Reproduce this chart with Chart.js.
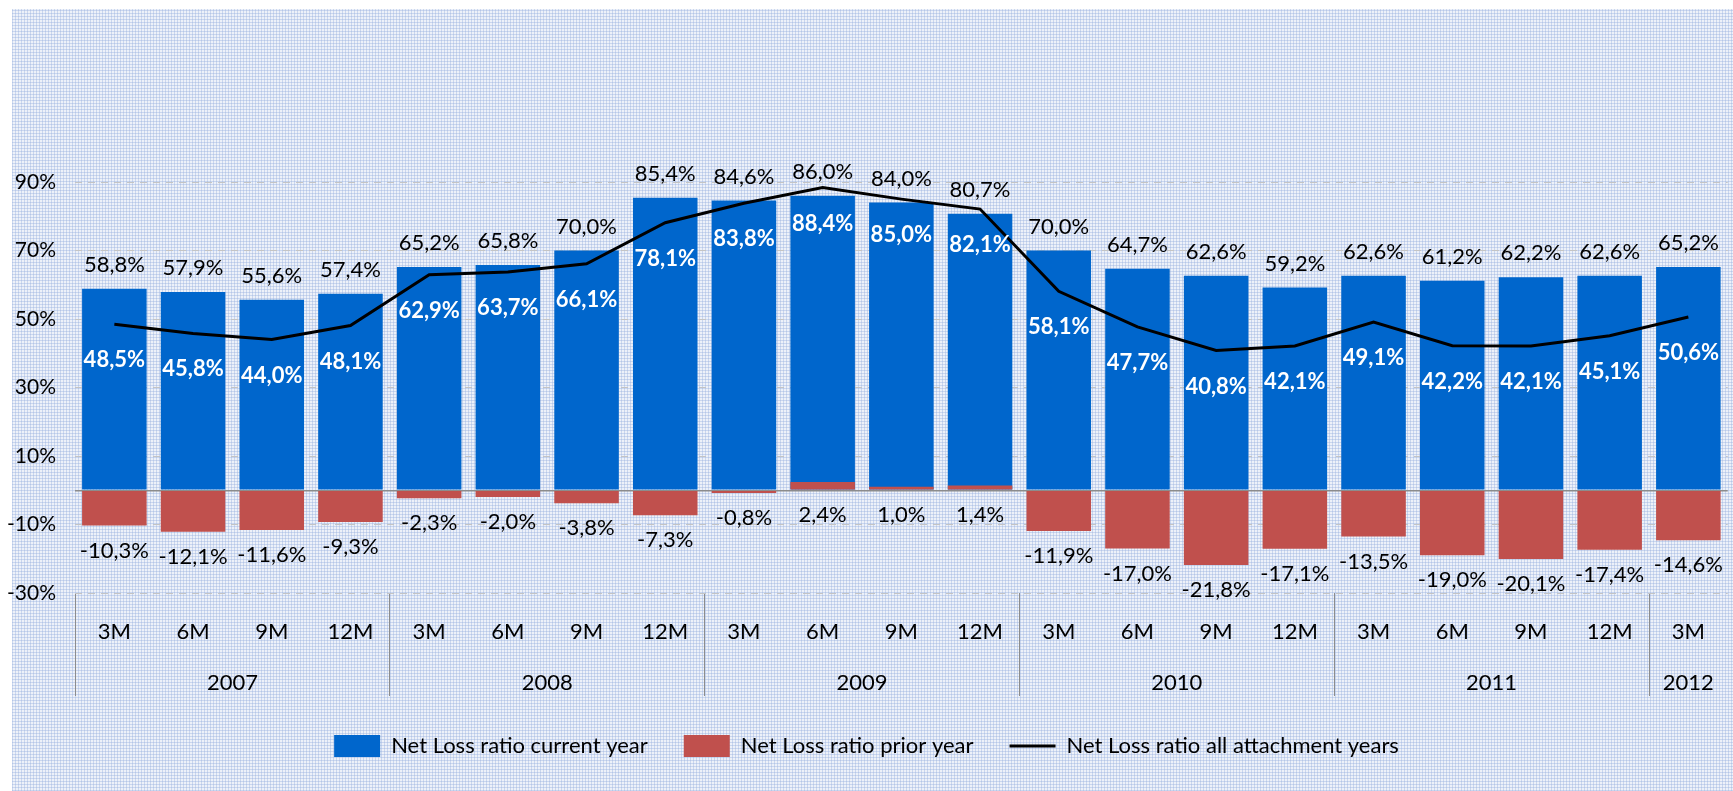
<!DOCTYPE html>
<html><head><meta charset="utf-8">
<script src="https://cdn.jsdelivr.net/npm/chart.js@4.4.0/dist/chart.umd.min.js"></script>
<style>
html,body{margin:0;padding:0;background:#fff;width:1733px;height:791px;overflow:hidden}
#bg{position:absolute;left:12px;top:9px;right:0;bottom:0;background-color:#edf1f9;
background-image:repeating-linear-gradient(90deg, rgba(150,175,222,0.40) 0 1px, transparent 1px 3px),repeating-linear-gradient(0deg, rgba(150,175,222,0.40) 0 1px, transparent 1px 3px);}
#wrap{position:absolute;left:0;top:0;width:1733px;height:791px}
</style></head><body><div id="bg"></div><div id="wrap"><canvas id="c" width="1733" height="791"></canvas></div>
<script>
const periods = ['3M','6M','9M','12M','3M','6M','9M','12M','3M','6M','9M','12M','3M','6M','9M','12M','3M','6M','9M','12M','3M'];
const years = ['2007','2008','2009','2010','2011','2012'];
const periodsPerYear = [4,4,4,4,4,1];
const currentYear = [58.8,57.9,55.6,57.4,65.2,65.8,70.0,85.4,84.6,86.0,84.0,80.7,70.0,64.7,62.6,59.2,62.6,61.2,62.2,62.6,65.2];
const priorYear = [-10.3,-12.1,-11.6,-9.3,-2.3,-2.0,-3.8,-7.3,-0.8,2.4,1.0,1.4,-11.9,-17.0,-21.8,-17.1,-13.5,-19.0,-20.1,-17.4,-14.6];
const allYears = [48.5,45.8,44.0,48.1,62.9,63.7,66.1,78.1,83.8,88.4,85.0,82.1,58.1,47.7,40.8,42.1,49.1,42.2,42.1,45.1,50.6];
const yTicks = [-30,-10,0,10,30,50,70,90];
const seriesNames = ['Net Loss ratio current year','Net Loss ratio prior year','Net Loss ratio all attachment years'];

// group boundaries and centers derived from periodsPerYear
const boundaries = new Set();
const yearCenters = [];
let acc = 0;
periodsPerYear.forEach(n => { boundaries.add(acc); yearCenters.push(acc + (n - 1) / 2); acc += n; });

const FONT = 'Lato';
const fmt = v => v.toFixed(1).replace('.', ',') + '%';

const valueLabels = {
  id: 'valueLabels',
  afterDatasetsDraw(chart) {
    const ctx = chart.ctx, y = chart.scales.y;
    ctx.save();
    ctx.textAlign = 'center'; ctx.textBaseline = 'middle';
    ctx.font = '22px ' + FONT; ctx.fillStyle = '#000';
    chart.getDatasetMeta(0).data.forEach((el, i) => ctx.fillText(fmt(currentYear[i]), el.x, el.y - 24));
    chart.getDatasetMeta(1).data.forEach((el, i) => {
      const base = y.getPixelForValue(Math.min(priorYear[i], 0));
      ctx.fillText(fmt(priorYear[i]), el.x, base + 25);
    });
    ctx.font = 'bold 22px ' + FONT; ctx.fillStyle = '#fff';
    chart.getDatasetMeta(2).data.forEach((el, i) => ctx.fillText(fmt(allYears[i]), el.x, el.y + 36));
    ctx.restore();
  }
};

new Chart(document.getElementById('c'), {
  data: {
    labels: periods,
    datasets: [
      { type: 'bar', label: seriesNames[0], data: currentYear, backgroundColor: '#0066CC', grouped: false, categoryPercentage: 1, barPercentage: 0.82, order: 2 },
      { type: 'bar', label: seriesNames[1], data: priorYear, backgroundColor: '#C0504D', grouped: false, categoryPercentage: 1, barPercentage: 0.82, order: 1 },
      { type: 'line', label: seriesNames[2], data: allYears, borderColor: '#000', backgroundColor: '#000', borderWidth: 3, pointRadius: 0, tension: 0, order: 0 }
    ]
  },
  options: {
    responsive: false, animation: false, devicePixelRatio: 1,
    layout: { padding: { left: 0, right: 0, top: 45, bottom: 24 } },
    plugins: {
      tooltip: { enabled: false },
      legend: {
        position: 'bottom',
        labels: {
          font: { family: FONT, size: 22 }, color: '#000', usePointStyle: true, pointStyleWidth: 46, boxHeight: 22, padding: 36,
          sort: (a, b) => a.datasetIndex - b.datasetIndex,
          generateLabels(chart) {
            const items = Chart.defaults.plugins.legend.labels.generateLabels(chart);
            items.forEach(it => {
              if (it.datasetIndex === 2) { it.pointStyle = 'line'; it.lineWidth = 3; it.strokeStyle = '#000'; }
              else { it.pointStyle = 'rect'; it.lineWidth = 0; }
            });
            return items;
          }
        }
      }
    },
    scales: {
      x: {
        type: 'category', offset: true, weight: 0,
        grid: { display: true, drawOnChartArea: false, offset: true, tickLength: 103, lineWidth: 1,
          color: c => boundaries.has(c.index) ? '#8c8c8c' : 'rgba(0,0,0,0)' },
        border: { display: false },
        ticks: { font: { family: FONT, size: 22 }, color: '#000', padding: -77, autoSkip: false, maxRotation: 0 },
        afterFit: s => { s.height = 50; }
      },
      x2: {
        type: 'linear', position: 'bottom', min: -0.5, max: periods.length - 0.5, weight: 1,
        grid: { display: false }, border: { display: false },
        afterBuildTicks: s => { s.ticks = yearCenters.map(v => ({ value: v })); },
        ticks: { font: { family: FONT, size: 22 }, color: '#000', padding: 19, autoSkip: false, maxRotation: 0,
          callback: (v, i) => years[i] },
        afterFit: s => { s.height = 56; }
      },
      y: {
        min: -30, max: 130,
        afterBuildTicks: s => { s.ticks = yTicks.map(v => ({ value: v })); },
        grid: { drawTicks: false,
          color: c => (c.tick && c.tick.value === 0) ? '#8c8c8c' : '#c4c4c4',
          lineWidth: c => (c.tick && c.tick.value === 0) ? 1.5 : 1 },
        border: { display: false, dash: c => (c.tick && c.tick.value === 0) ? [] : [7, 6] },
        ticks: { font: { family: FONT, size: 21 }, color: '#000', padding: 19,
          callback: v => v === 0 ? '' : v + '%' },
        afterFit: s => { s.width = 75; }
      }
    }
  },
  plugins: [valueLabels]
});
</script></body></html>
